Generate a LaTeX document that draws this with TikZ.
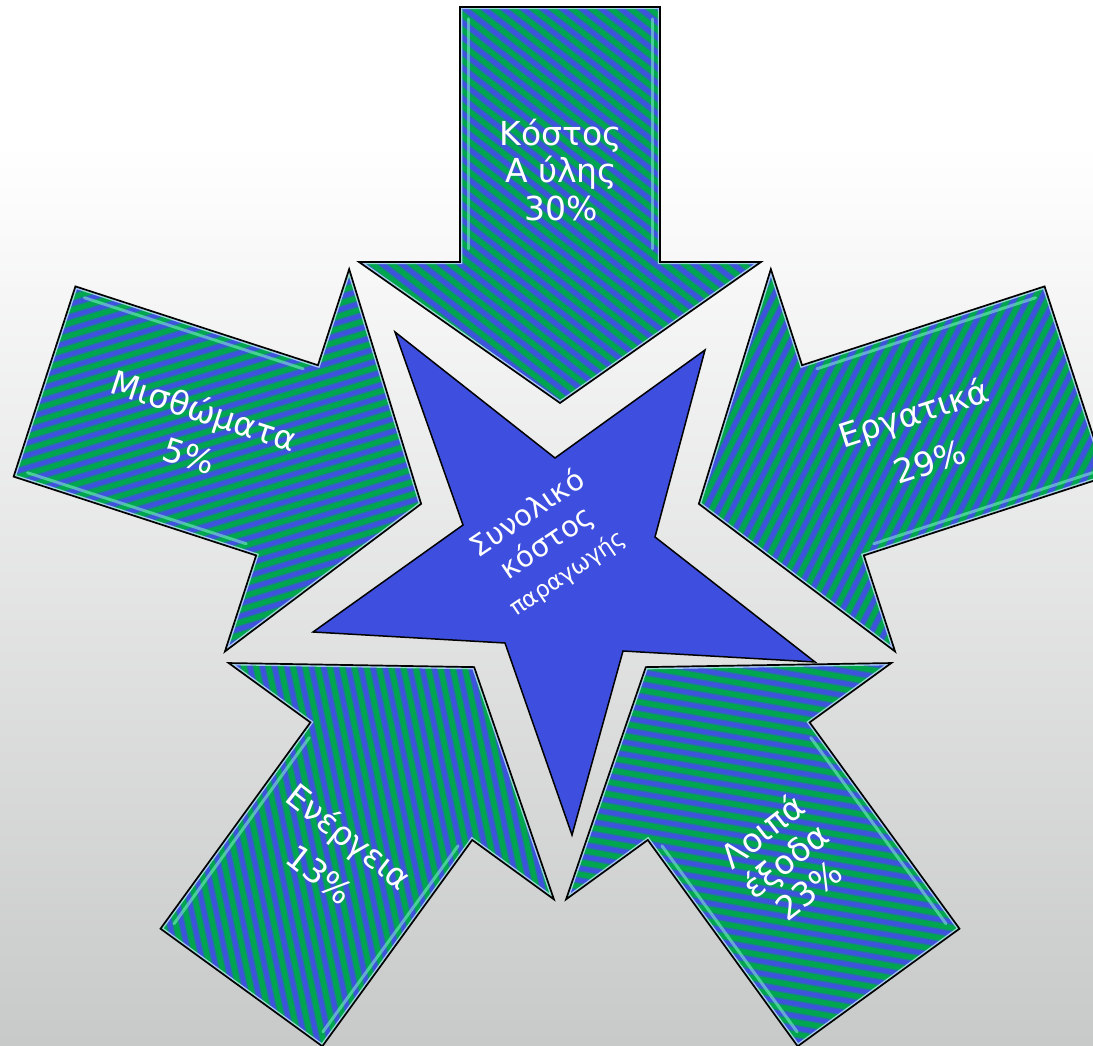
\documentclass[tikz,border=0pt]{standalone}
\usepackage{fontspec}
\setmainfont{DejaVu Sans}
\definecolor{stgreen}{RGB}{0,165,80}
\definecolor{stblue}{RGB}{62,82,222}
\definecolor{starblue}{RGB}{62,78,222}
\definecolor{bgbot}{RGB}{200,201,201}
\definecolor{hl}{RGB}{140,255,210}
\def\arrowpath{(-100,542) -- (100,542) -- (100,287) -- (201,287) -- (0,146) -- (-201,287) -- (-100,287) -- cycle}
\newcommand\bigarrow[2]{%
\begin{scope}[shift={(560,496)},rotate=#1]
 \begin{scope}
  \clip \arrowpath;
  \fill[stgreen] \arrowpath;
  \begin{scope}[shift={(0,344)},rotate=#2]
   \foreach \k in {-36,...,36} {
     \draw[stblue!60!stgreen, line width=6.5] (-420,\k*12) -- (420,\k*12);
     \draw[stblue, line width=4] (-420,\k*12) -- (420,\k*12);
   }
  \end{scope}
  \draw[hl, opacity=0.5, line width=3, line cap=round] (-92,300) -- (-92,530);
  \draw[hl, opacity=0.5, line width=3, line cap=round] (92,300) -- (92,530);
  \draw[white!80!cyan, opacity=0.75, line width=4.5] \arrowpath;
 \end{scope}
 \draw[black, line width=1.7] \arrowpath;
\end{scope}}
\begin{document}
\begin{tikzpicture}[x=1pt,y=1pt,
  lbl/.style={text=white, font=\fontsize{33}{37.5}\selectfont, align=center, inner sep=0pt}]
\useasboundingbox (0,0) rectangle (1093,1045);
\clip (0,0) rectangle (1093,1045);
% background
\fill[white] (0,900) rectangle (1093,1045);
\shade[top color=white, bottom color=bgbot] (0,0) rectangle (1093,901);
% star
\draw[fill=starblue, line width=1.5, line join=miter] (395,713) -- (555,587) -- (705,695) -- (655,508) -- (815,383) -- (623,394) -- (572,210) -- (505,402) -- (313,413) -- (463,520) -- cycle;
% arrows
\bigarrow{0}{142}
\bigarrow{72}{125}
\bigarrow{-72}{135}
\bigarrow{144}{138}
\bigarrow{-144}{134}
% labels
\node[lbl] (t1) at (561,875) {Κόστος\\Α ύλης\\30\%};
\node[lbl, rotate=-18] (t2) at (197,612.5) {Μισθώματα\\[10pt]5\%};
\node[lbl, rotate=18] (t3) at (921.5,608.5) {Εργατικά\\[14pt]29\%};
\node[lbl, rotate=-38] (t4) at (335,190) {Ενέργεια\\[10pt]13\%};
\node[lbl, rotate=38] (t5) at (785,185) {Λοιπά\\έξοδα\\23\%};
\node[lbl, rotate=34, font=\fontsize{29}{35}\selectfont] (st) at (547,502) {Συνολικό\\κόστος\\{\fontsize{23}{26}\selectfont παραγωγής}};
\end{tikzpicture}
\end{document}
